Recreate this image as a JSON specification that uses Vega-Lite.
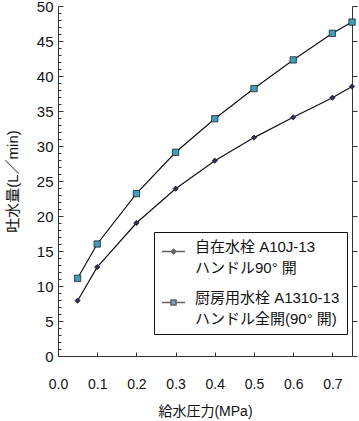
{
  "$schema": "https://vega.github.io/schema/vega-lite/v6.json",
  "width": 294,
  "height": 350,
  "autosize": {"type": "none"},
  "padding": {"left": 58, "top": 6, "right": 7, "bottom": 65},
  "config": {
    "view": {"stroke": null},
    "font": "Liberation Sans, 'Noto Sans CJK JP'",
    "axis": {"grid": false, "domainColor": "#333", "tickColor": "#333", "labelColor": "#111", "titleColor": "#111", "labelFont": "Liberation Sans, 'Noto Sans CJK JP'", "titleFont": "Liberation Sans, 'Noto Sans CJK JP'", "labelFontSize": 14, "titleFontSize": 14, "titleFontWeight": "normal"},
    "style": {"guide-label": {"lineHeight": 21}}
  },
  "data": {"values": [
    {"p": 0.05, "q": 7.9, "s": "自在水栓 A10J-13\nハンドル90° 開"},
    {"p": 0.1, "q": 12.7, "s": "自在水栓 A10J-13\nハンドル90° 開"},
    {"p": 0.2, "q": 19.0, "s": "自在水栓 A10J-13\nハンドル90° 開"},
    {"p": 0.3, "q": 23.9, "s": "自在水栓 A10J-13\nハンドル90° 開"},
    {"p": 0.4, "q": 27.9, "s": "自在水栓 A10J-13\nハンドル90° 開"},
    {"p": 0.5, "q": 31.2, "s": "自在水栓 A10J-13\nハンドル90° 開"},
    {"p": 0.6, "q": 34.1, "s": "自在水栓 A10J-13\nハンドル90° 開"},
    {"p": 0.7, "q": 36.9, "s": "自在水栓 A10J-13\nハンドル90° 開"},
    {"p": 0.75, "q": 38.5, "s": "自在水栓 A10J-13\nハンドル90° 開"},
    {"p": 0.05, "q": 11.1, "s": "厨房用水栓 A1310-13\nハンドル全開(90° 開)"},
    {"p": 0.1, "q": 16.0, "s": "厨房用水栓 A1310-13\nハンドル全開(90° 開)"},
    {"p": 0.2, "q": 23.2, "s": "厨房用水栓 A1310-13\nハンドル全開(90° 開)"},
    {"p": 0.3, "q": 29.1, "s": "厨房用水栓 A1310-13\nハンドル全開(90° 開)"},
    {"p": 0.4, "q": 33.9, "s": "厨房用水栓 A1310-13\nハンドル全開(90° 開)"},
    {"p": 0.5, "q": 38.2, "s": "厨房用水栓 A1310-13\nハンドル全開(90° 開)"},
    {"p": 0.6, "q": 42.3, "s": "厨房用水栓 A1310-13\nハンドル全開(90° 開)"},
    {"p": 0.7, "q": 46.1, "s": "厨房用水栓 A1310-13\nハンドル全開(90° 開)"},
    {"p": 0.75, "q": 47.7, "s": "厨房用水栓 A1310-13\nハンドル全開(90° 開)"}
  ]},
  "encoding": {
    "x": {"field": "p", "type": "quantitative", "scale": {"domain": [0, 0.75], "nice": false, "zero": true}},
    "y": {"field": "q", "type": "quantitative", "scale": {"domain": [0, 50], "nice": false}}
  },
  "layer": [
    {
      "mark": {"type": "line", "color": "#111", "strokeWidth": 1.2},
      "encoding": {
        "detail": {"field": "s"},
        "x": {"field": "p", "type": "quantitative", "axis": {"title": "給水圧力(MPa)", "values": [0, 0.1, 0.2, 0.3, 0.4, 0.5, 0.6, 0.7], "tickSize": -4, "labelPadding": 25, "titlePadding": 13, "labelFlush": false}},
        "y": {"field": "q", "type": "quantitative", "axis": {"title": "吐水量(L／min)", "orient": "left", "values": [0, 5, 10, 15, 20, 25, 30, 35, 40, 45, 50], "tickSize": -5, "labelPadding": 10, "labelFontSize": 15, "titleFontSize": 15, "titlePadding": 16, "labelFlush": false}}
      }
    },
    {
      "mark": {"type": "point", "filled": true, "stroke": "#222", "strokeWidth": 0.8, "opacity": 1},
      "encoding": {
        "y": {"field": "q", "type": "quantitative", "axis": {"orient": "left", "values": [0,1,2,3,4,5,6,7,8,9,10,11,12,13,14,15,16,17,18,19,20,21,22,23,24,25,26,27,28,29,30,31,32,33,34,35,36,37,38,39,40,41,42,43,44,45,46,47,48,49,50], "labels": false, "domain": false, "tickSize": -3, "title": null}},
        "shape": {"field": "s", "type": "nominal", "scale": {"domain": ["自在水栓 A10J-13\nハンドル90° 開", "厨房用水栓 A1310-13\nハンドル全開(90° 開)"], "range": ["diamond", "square"]}, "legend": null},
        "fill": {"field": "s", "type": "nominal", "scale": {"domain": ["自在水栓 A10J-13\nハンドル90° 開", "厨房用水栓 A1310-13\nハンドル全開(90° 開)"], "range": ["#2b3058", "#3c9fbf"]}, "legend": null},
        "size": {"field": "s", "type": "nominal", "scale": {"domain": ["自在水栓 A10J-13\nハンドル90° 開", "厨房用水栓 A1310-13\nハンドル全開(90° 開)"], "range": [28, 40]}, "legend": null}
      }
    },
    {
      "transform": [{"filter": "false"}],
      "mark": {"type": "point", "filled": true, "stroke": "#222", "strokeWidth": 1},
      "encoding": {
        "shape": {"field": "s", "type": "nominal", "scale": {"domain": ["自在水栓 A10J-13\nハンドル90° 開", "厨房用水栓 A1310-13\nハンドル全開(90° 開)"], "range": ["M-1,0H1M0,-0.2L0.2,0L0,0.2L-0.2,0Z", "M-1,0H-0.22M0.22,0H1M-0.22,-0.22H0.22V0.22H-0.22Z"]},
          "legend": {"title": null, "orient": "none", "legendX": 96, "legendY": 226, "padding": 7, "strokeColor": "#111", "fillColor": "white", "symbolSize": 529, "labelOffset": 9, "labelFontSize": 15, "labelFont": "Liberation Sans, 'Noto Sans CJK JP'", "labelColor": "#111", "labelLimit": 0, "rowPadding": 14, "labelExpr": "split(datum.label, '\\n')", "labelBaseline": "alphabetic",
            "encode": {"symbols": {"update": {"stroke": {"value": "#222"}, "strokeWidth": {"value": 1}, "opacity": {"value": 1}, "fill": {"signal": "datum.index === 0 ? '#2b3058' : '#3c9fbf'"}}}}}}
      }
    }
  ],
  "resolve": {"scale": {"shape": "independent", "fill": "independent", "size": "independent"}, "axis": {"y": "independent"}}
}
